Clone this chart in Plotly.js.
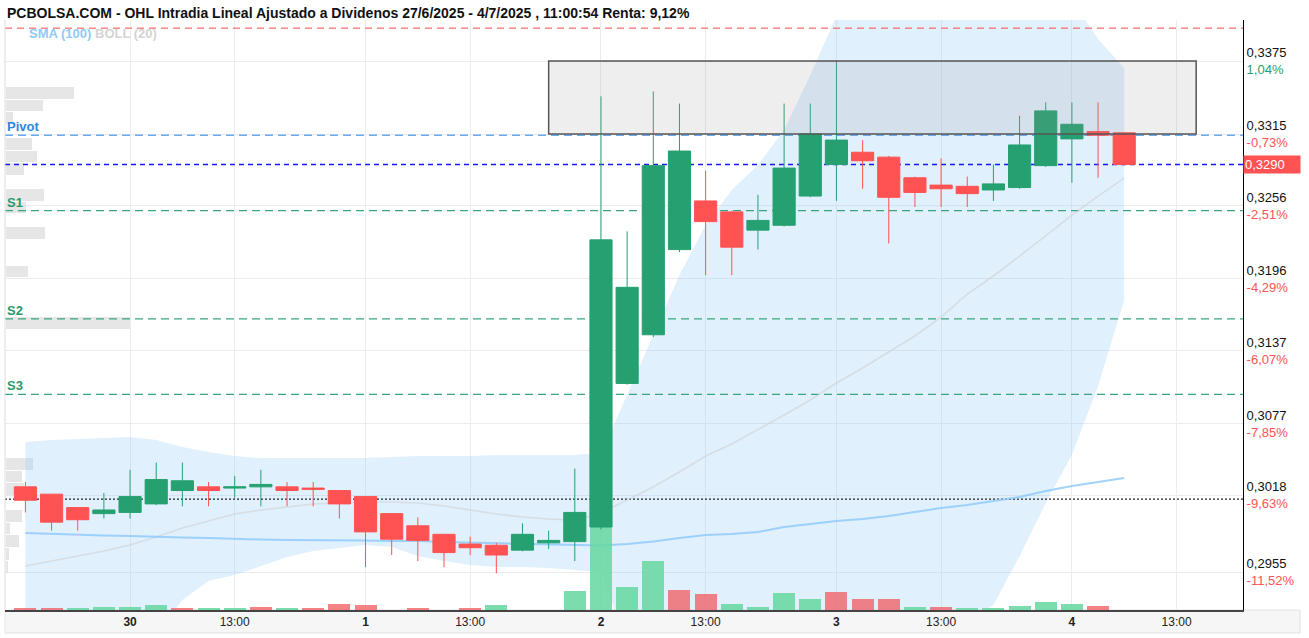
<!DOCTYPE html>
<html><head><meta charset="utf-8">
<script src="https://cdn.plot.ly/plotly-3.0.1.min.js"></script>
<style>html,body{margin:0;padding:0;background:#fff;}#chart{width:1309px;height:638px;}</style>
</head><body><div id="chart"></div>
<script>
// ---- data ----
const times = ["27/6 14:00","27/6 15:00","27/6 16:00","27/6 17:00",
 "30/6 9:00","30/6 10:00","30/6 11:00","30/6 12:00","30/6 13:00","30/6 14:00","30/6 15:00","30/6 16:00","30/6 17:00",
 "1/7 9:00","1/7 10:00","1/7 11:00","1/7 12:00","1/7 13:00","1/7 14:00","1/7 15:00","1/7 16:00","1/7 17:00",
 "2/7 9:00","2/7 10:00","2/7 11:00","2/7 12:00","2/7 13:00","2/7 14:00","2/7 15:00","2/7 16:00","2/7 17:00",
 "3/7 9:00","3/7 10:00","3/7 11:00","3/7 12:00","3/7 13:00","3/7 14:00","3/7 15:00","3/7 16:00","3/7 17:00",
 "4/7 9:00","4/7 10:00","4/7 11:00"];
const open  = [0.3025,0.3019,0.3008,0.3003,0.3004,0.3011,0.3022,0.3025,0.3024,0.3025,0.3025,0.3024,0.3022,0.3017,0.3003,0.2993,0.2986,0.2978,0.2977,0.2973,0.2979,0.2980,0.2992,0.3110,0.3150,0.3220,0.3260,0.3251,0.3236,0.3240,0.3264,0.3290,0.3300,0.3296,0.3279,0.3273,0.3272,0.3269,0.3271,0.3289,0.3311,0.3317,0.3316];
const high  = [0.3029,0.3019,0.3008,0.3020,0.3039,0.3045,0.3045,0.3029,0.3034,0.3039,0.3029,0.3029,0.3022,0.3017,0.3003,0.3000,0.2986,0.2984,0.2979,0.2995,0.2989,0.3040,0.3346,0.3235,0.3350,0.3340,0.3285,0.3252,0.3265,0.3340,0.3340,0.3375,0.3310,0.3297,0.3280,0.3295,0.3280,0.3290,0.3330,0.3341,0.3341,0.3341,0.3316];
const low   = [0.3004,0.2989,0.2989,0.2999,0.2999,0.3010,0.3009,0.3009,0.3016,0.3009,0.3009,0.3009,0.2999,0.2959,0.2969,0.2964,0.2959,0.2969,0.2954,0.2972,0.2974,0.2964,0.2990,0.3109,0.3148,0.3218,0.3199,0.3199,0.3220,0.3239,0.3263,0.3260,0.3270,0.3225,0.3255,0.3255,0.3255,0.3260,0.3270,0.3288,0.3275,0.3279,0.3290];
const close = [0.3014,0.2996,0.2998,0.3006,0.3017,0.3031,0.3030,0.3022,0.3025,0.3027,0.3022,0.3023,0.3011,0.2988,0.2982,0.2981,0.2971,0.2975,0.2969,0.2986,0.2981,0.3004,0.3228,0.3189,0.3289,0.3301,0.3243,0.3222,0.3244,0.3287,0.3315,0.3310,0.3293,0.3263,0.3267,0.3270,0.3266,0.3274,0.3306,0.3334,0.3323,0.3314,0.3290];
const volume = [23,23,17,33,33,47,20,20,20,33,20,20,57,47,0,20,0,20,47,0,0,195,830,234,490,200,156,57,30,166,115,183,108,107,33,33,23,17,43,83,57,40,0];
const volumeUp = [0,0,1,1,1,1,0,1,1,0,1,0,0,0,0,0,0,0,1,0,0,1,1,1,1,0,0,1,1,1,1,0,0,0,1,0,1,1,1,1,1,0,0];
const sma100 = [0.29871,0.29862,0.29854,0.29850,0.29846,0.29838,0.29834,0.29829,0.29821,0.29817,0.29813,0.29813,0.29809,0.29809,0.29805,0.29805,0.29797,0.29793,0.29788,0.29780,0.29776,0.29772,0.29768,0.29780,0.29801,0.29829,0.29854,0.29862,0.29879,0.29920,0.29945,0.29969,0.29986,0.30010,0.30043,0.30076,0.30101,0.30134,0.30166,0.30216,0.30257,0.30290,0.30323];
const bollMid = [0.29600,0.29641,0.29682,0.29723,0.29772,0.29838,0.29912,0.29969,0.30027,0.30060,0.30084,0.30109,0.30117,0.30125,0.30125,0.30117,0.30093,0.30060,0.30027,0.30002,0.29986,0.29977,0.30035,0.30142,0.30249,0.30372,0.30504,0.30602,0.30725,0.30841,0.30964,0.31104,0.31227,0.31358,0.31490,0.31646,0.31835,0.31983,0.32147,0.32312,0.32484,0.32640,0.32788];
const bollUp = [0.30619,0.30635,0.30643,0.30651,0.30660,0.30635,0.30577,0.30536,0.30504,0.30487,0.30487,0.30487,0.30487,0.30487,0.30495,0.30504,0.30504,0.30504,0.30512,0.30512,0.30512,0.30512,0.30528,0.31005,0.31498,0.31991,0.32402,0.32690,0.32895,0.33183,0.33635,0.3412,0.3430,0.3445,0.3455,0.3460,0.3462,0.3460,0.3455,0.3445,0.3425,0.3393,0.3369];
const bollLow = [0.2858,0.2865,0.2872,0.2880,0.2888,0.2905,0.2932,0.29476,0.29525,0.29599,0.29673,0.29723,0.29747,0.29772,0.29756,0.29682,0.29641,0.29608,0.29591,0.29591,0.29583,0.29567,0.29550,0.2895,0.2870,0.2860,0.2855,0.2852,0.2850,0.2850,0.2852,0.2856,0.2860,0.2866,0.2875,0.2898,0.29147,0.29279,0.29682,0.30117,0.30512,0.31079,0.31786];
const profilePrice = [0.33485,0.33384,0.33284,0.33066,0.32965,0.32861,0.32647,0.32546,0.32339,0.32020,0.31594,0.30436,0.30335,0.30231,0.30011,0.29908,0.29806,0.29696,0.29592];
const profileVol = [68,37,7,26,31,18,38,20,39,22,124,27,16,18,16,4,13,3,2.4];
const levelNames = ["", "Pivot", "", "S1", "S2", "S3", ""];
const levelValues = [0.3402, 0.3314, 0.3290, 0.3252, 0.3163, 0.3101, 0.3015];
const zonePrices = [0.3315, 0.3375];
const zoneIdx = [20, 44.75];
const yTickVals = [0.3375,0.3315,0.3256,0.3196,0.3137,0.3077,0.3018,0.2955];
const yTickPrice = ["0,3375","0,3315","0,3256","0,3196","0,3137","0,3077","0,3018","0,2955"];
const yTickPct = ["1,04%","-0,73%","-2,51%","-4,29%","-6,07%","-7,85%","-9,63%","-11,52%"];
const xTickIdx = [4,8,13,17,22,26,31,35,40,44];
const xTickText = ["30","13:00","1","13:00","2","13:00","3","13:00","4","13:00"];
const lastPriceText = "0,3290";
const titleText = "PCBOLSA.COM - OHL Intradia Lineal Ajustado a Dividenos 27/6/2025 - 4/7/2025 , 11:00:54 Renta: 9,12%";

// ---- styling / layout ----
const GREEN = '#26a070', RED = '#ff5252';
const xRange = [-0.78, 46.54];
const yRange = [0.29238, 0.34087];
const plotW = 1238;
const idxPerPx = (xRange[1]-xRange[0]) / plotW;
const idx = times.map((t,i)=>i);
const FONT = 'Liberation Sans, Arial, sans-serif';

const traces = [];
// Bollinger band fill
traces.push({x: idx, y: bollUp, type:'scatter', mode:'lines', line:{width:0, color:'rgba(0,0,0,0)'}, hoverinfo:'skip'});
traces.push({x: idx, y: bollLow, type:'scatter', mode:'lines', line:{width:0, color:'rgba(0,0,0,0)'}, fill:'tonexty', fillcolor:'rgba(144,202,249,0.28)', hoverinfo:'skip'});
// volume profile
traces.push({type:'bar', orientation:'h', y: profilePrice, x: profileVol.map(v=>v*idxPerPx), base: xRange[0]+0.02,
  width: 0.00096, marker:{color:'rgba(222,222,222,0.75)', line:{width:0}}, hoverinfo:'skip'});
// level lines
const levelStyles = [
  {color:'#ff4b4b', width:1, dash:'7px,5px'},
  {color:'#6aa9ee', width:1.5, dash:'8px,5px'},
  {color:'#1515ff', width:1.5, dash:'5px,4px'},
  {color:'#3aa57c', width:1.3, dash:'8px,5px'},
  {color:'#3aa57c', width:1.3, dash:'8px,5px'},
  {color:'#3aa57c', width:1.3, dash:'8px,5px'},
  {color:'#222222', width:1.2, dash:'2px,2px'}
];
levelValues.forEach((v,i)=>{
  traces.push({x:[xRange[0], xRange[1]], y:[v,v], type:'scatter', mode:'lines', line:levelStyles[i], hoverinfo:'skip'});
});
// indicator lines
traces.push({x: idx, y: bollMid, type:'scatter', mode:'lines', line:{color:'rgba(205,205,205,0.55)', width:1.6}, hoverinfo:'skip'});
traces.push({x: idx, y: sma100, type:'scatter', mode:'lines', line:{color:'rgba(144,202,249,0.85)', width:2}, hoverinfo:'skip'});
// volume (overlay axis y2)
traces.push({type:'bar', x: idx, y: volume, yaxis:'y2', width:0.84,
  marker:{color: volumeUp.map(u=>u ? 'rgba(100,215,160,0.85)' : 'rgba(240,100,105,0.8)'), line:{width:0}}, hoverinfo:'skip'});
// candles (overlay axis y3, same price scale, drawn on top)
traces.push({type:'candlestick', x: idx, open, high, low, close, yaxis:'y3',
  increasing:{line:{color:GREEN, width:1}, fillcolor:GREEN},
  decreasing:{line:{color:RED, width:1}, fillcolor:RED},
  whiskerwidth:0, hoverinfo:'x+y'});

const yTickText = yTickVals.map((v,i)=> yTickPrice[i] + '<br><span style="color:' + (yTickPct[i].startsWith('-') ? RED : GREEN) + '">' + yTickPct[i] + '</span>');
const xTickLabels = xTickText.map(t => t.indexOf(':')>=0 ? t : '<b>'+t+'</b>');

const annotations = [
  {xref:'paper', yref:'paper', x:0, y:1+7/590, xanchor:'left', yanchor:'middle', showarrow:false,
   text:'<b>'+titleText+'</b>', font:{family:FONT, size:14, color:'#111'}},
  {xref:'paper', yref:'paper', x:22/plotW, y:(590-14)/590, xanchor:'left', yanchor:'middle', showarrow:false,
   text:'<b><span style="color:#90caf9">SMA (100)</span> <span style="color:#d4d4d4">BOLL (20)</span></b>', font:{family:FONT, size:13}},
  {xref:'paper', yref:'y', x:1, y: levelValues[2], xanchor:'left', yanchor:'middle', showarrow:false,
   text: lastPriceText, bgcolor: RED, font:{family:FONT, size:13, color:'#fff'}, borderpad:1, width:54, align:'left'}
];
levelNames.forEach((n,i)=>{
  if(!n) return;
  annotations.push({xref:'paper', yref:'y', x:0, y: levelValues[i], xanchor:'left', yanchor:'bottom', showarrow:false, yshift:-1,
    text:'<b>'+n+'</b>', font:{family:FONT, size:13, color: n==='Pivot' ? '#2f86e0' : '#2a9a6c'}});
});

const shapes = [
  {type:'rect', xref:'paper', yref:'paper', x0:0, x1:(1300-5)/plotW, y0:0, y1:-23/590, fillcolor:'#f6f6f6', line:{color:'#e2e2e2', width:1}, layer:'below'},
  {type:'line', xref:'paper', yref:'paper', x0:0, x1:0, y0:0, y1:1, line:{color:'#dddddd', width:1}, layer:'above'},
  {type:'rect', xref:'x', yref:'y', x0: zoneIdx[0], x1: zoneIdx[1], y0: zonePrices[0], y1: zonePrices[1],
   fillcolor:'rgba(150,150,150,0.16)', line:{color:'#555', width:1.5}, layer:'above'}
];

const layout = {
  width:1309, height:638,
  margin:{l:5, r:66, t:20, b:28},
  paper_bgcolor:'#fff', plot_bgcolor:'#fff',
  showlegend:false, boxgap:0.08, boxgroupgap:0.08, bargap:0,
  hovermode:false,
  xaxis:{range:xRange, tickmode:'array', tickvals:xTickIdx, ticktext:xTickLabels, showgrid:true, gridcolor:'#ececec',
    zeroline:false, rangeslider:{visible:false}, showline:true, linecolor:'#444', linewidth:2, ticks:'',
    tickfont:{family:FONT, size:12, color:'#222'}, fixedrange:true},
  yaxis:{side:'right', range:yRange, tickmode:'array', tickvals:yTickVals, ticktext:yTickText, showgrid:true, gridcolor:'#ececec',
    zeroline:false, showline:true, linecolor:'#000', linewidth:1, ticks:'', tickfont:{family:FONT, size:13, color:'#111'}, fixedrange:true},
  yaxis2:{overlaying:'y', range:[0,5900], visible:false, fixedrange:true},
  yaxis3:{overlaying:'y', range:yRange, visible:false, fixedrange:true},
  annotations, shapes
};
Plotly.newPlot('chart', traces, layout, {displayModeBar:false, staticPlot:true});
</script></body></html>
